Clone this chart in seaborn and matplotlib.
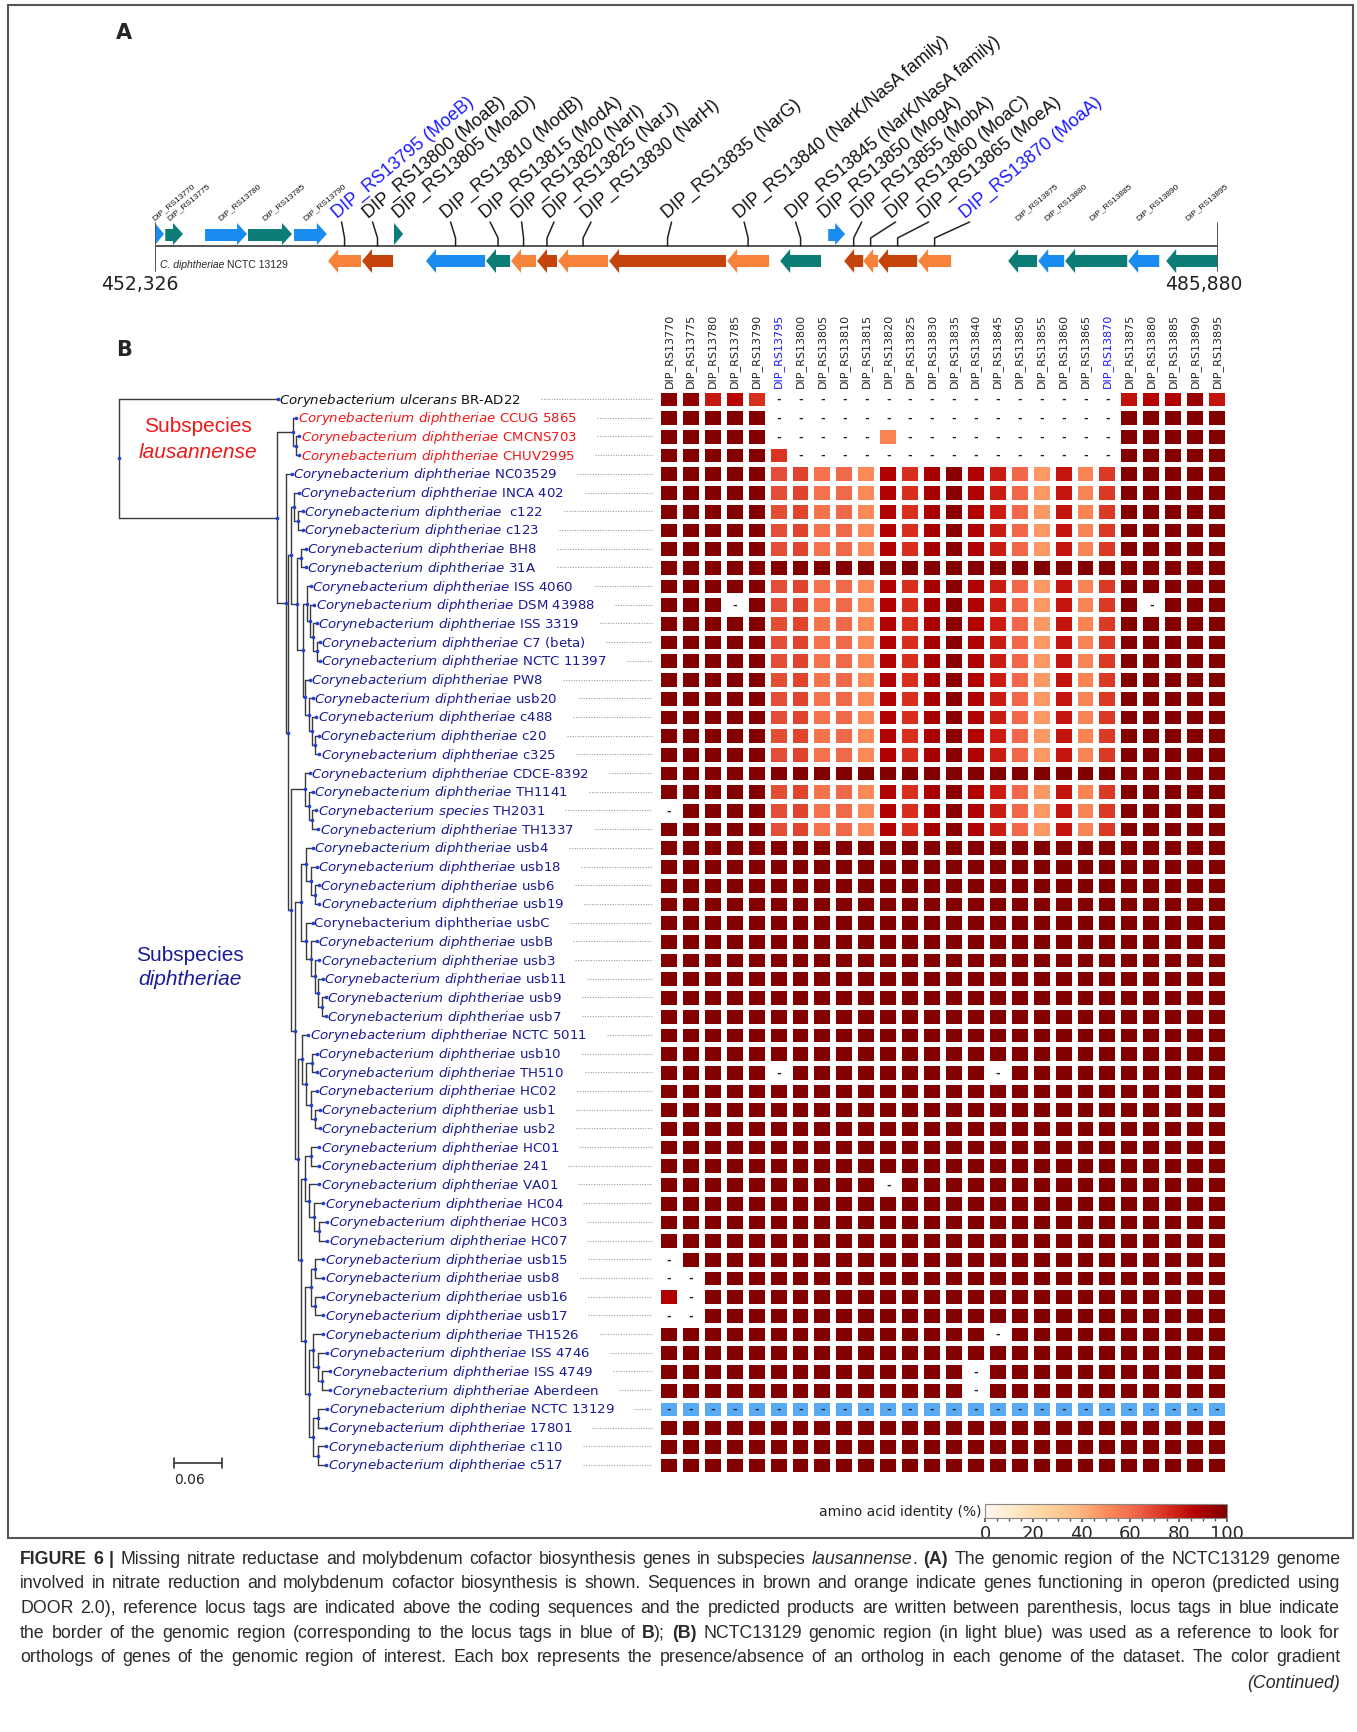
import numpy as np
import pandas as pd
import matplotlib
matplotlib.use('Agg')
import matplotlib.pyplot as plt
import seaborn as sns
from matplotlib.patches import Polygon, Rectangle
from matplotlib.colors import ListedColormap
from matplotlib.ticker import MultipleLocator
from matplotlib import font_manager

# ---------------- panel A data: genomic region of NCTC 13129 ----------------
region = (452326, 485880)
gene_tags = ['DIP_RS13770', 'DIP_RS13775', 'DIP_RS13780', 'DIP_RS13785', 'DIP_RS13790',
             'DIP_RS13795', 'DIP_RS13800', 'DIP_RS13805', 'DIP_RS13810', 'DIP_RS13815',
             'DIP_RS13820', 'DIP_RS13825', 'DIP_RS13830', 'DIP_RS13835', 'DIP_RS13840',
             'DIP_RS13845', 'DIP_RS13850', 'DIP_RS13855', 'DIP_RS13860', 'DIP_RS13865',
             'DIP_RS13870', 'DIP_RS13875', 'DIP_RS13880', 'DIP_RS13885', 'DIP_RS13890',
             'DIP_RS13895']
gene_start = [452326, 452650, 453905, 455262, 456714, 457790, 458860, 459870, 460880, 462775,
              463565, 464385, 465050, 466660, 470385, 472060, 473575, 474080, 474680, 475150,
              476415, 479255, 480205, 481055, 483045, 484245]
gene_end = [452610, 453210, 455230, 456650, 457750, 458830, 459840, 460160, 462745, 463535,
            464355, 465015, 466625, 470350, 471710, 473350, 474110, 474680, 475150, 476385,
            477455, 480170, 481025, 483015, 484025, 485880]
gene_strand = ['+', '+', '+', '+', '+', '-', '-', '+', '-', '-', '-', '-', '-', '-', '-',
               '-', '+', '-', '-', '-', '-', '-', '-', '-', '-', '-']
gene_kind = ['blue', 'teal', 'blue', 'teal', 'blue', 'orange', 'brown', 'teal', 'blue', 'teal',
             'orange', 'brown', 'orange', 'brown', 'orange', 'teal', 'blue', 'brown', 'orange',
             'brown', 'orange', 'teal', 'blue', 'teal', 'blue', 'teal']
gene_products = ['', '', '', '', '', 'MoeB', 'MoaB', 'MoaD', 'ModB', 'ModA', 'NarI', 'NarJ',
                 'NarH', 'NarG', 'NarK/NasA family', 'NarK/NasA family', 'MogA', 'MobA', 'MoaC',
                 'MoeA', 'MoaA', '', '', '', '', '']
border_tags = ['DIP_RS13795', 'DIP_RS13870']

# ---------------- panel B data ----------------
strains = ['BR-AD22', 'CCUG 5865', 'CMCNS703', 'CHUV2995', 'NC03529', 'INCA 402', ' c122', 'c123',
           'BH8', '31A', 'ISS 4060', 'DSM 43988', 'ISS 3319', 'C7 (beta)', 'NCTC 11397', 'PW8',
           'usb20', 'c488', 'c20', 'c325', 'CDCE-8392', 'TH1141', 'TH2031', 'TH1337', 'usb4',
           'usb18', 'usb6', 'usb19', 'usbC', 'usbB', 'usb3', 'usb11', 'usb9', 'usb7', 'NCTC 5011',
           'usb10', 'TH510', 'HC02', 'usb1', 'usb2', 'HC01', '241', 'VA01', 'HC04', 'HC03', 'HC07',
           'usb15', 'usb8', 'usb16', 'usb17', 'TH1526', 'ISS 4746', 'ISS 4749', 'Aberdeen',
           'NCTC 13129', '17801', 'c110', 'c517']
outgroup = ['BR-AD22']
lausannense = ['CCUG 5865', 'CMCNS703', 'CHUV2995']
species_override = {'BR-AD22': 'ulcerans', 'TH2031': 'species'}
upright_labels = ['usbC']
reference_strain = 'NCTC 13129'

# phylogeny (newick, substitutions/site), leaves in the row order above
tree_newick = """
(BR-AD22:0.199,
 ((CCUG5865:0.004,(CMCNS703:0.004,CHUV2995:0.004):0.004):0.020,
  (NC03529:0.0075,
   (((INCA402:0.006,(c122:0.006,c123:0.006):0.005):0.004,
     ((BH8:0.006,31A:0.006):0.005,
      ((ISS4060:0.005,(DSM43988:0.005,(ISS3319:0.004,(C7beta:0.004,NCTC11397:0.004):0.004):0.004):0.004):0.005,
       (PW8:0.006,(usb20:0.005,(c488:0.005,(c20:0.004,c325:0.005):0.004):0.004):0.005):0.0025):0.0075):0.0075):0.004,
    ((CDCE8392:0.006,(TH1141:0.005,(TH2031:0.005,TH1337:0.0075):0.004):0.005):0.0175,
     (((usb4:0.009,(usb18:0.0075,(usb6:0.005,usb19:0.006):0.005):0.006):0.006,
       (usbC:0.009,(usbB:0.0075,(usb3:0.006,(usb11:0.006,(usb9:0.005,usb7:0.005):0.005):0.004):0.005):0.006):0.006):0.0075,
      ((NCTC5011:0.0075,((usb10:0.006,TH510:0.006):0.0075,(HC02:0.0075,(usb1:0.006,usb2:0.006):0.005):0.006):0.005):0.005,
       (((HC01:0.010,241:0.010):0.0075,(VA01:0.0125,(HC04:0.011,(HC03:0.010,HC07:0.010):0.006):0.006):0.005):0.005,
        (((usb15:0.010,usb8:0.010):0.006,(usb16:0.010,usb17:0.010):0.006):0.0075,
         ((TH1526:0.0125,(ISS4746:0.011,(ISS4749:0.010,Aberdeen:0.010):0.005):0.006):0.006,
          ((NCTC13129:0.011,17801:0.010):0.006,(c110:0.010,c517:0.010):0.006):0.006):0.005):0.004):0.004):0.004):0.005):0.004):0.0025):0.011):0.198);
"""

loci = gene_tags
default_identity = 99
ulcerans_identity = [97, 96, 81, 86, 75] + [np.nan] * 16 + [83, 87, 88, 93, 82]
reduced_profile = [68, 70, 58, 61, 51, 88, 75, 90, 97, 88, 80, 62, 47, 82, 53, 73]  # DIP_RS13795..13870
reduced_strains = ['NC03529', 'INCA 402', ' c122', 'c123', 'BH8', 'ISS 4060', 'DSM 43988', 'ISS 3319',
                   'C7 (beta)', 'NCTC 11397', 'PW8', 'usb20', 'c488', 'c20', 'c325', 'TH1141',
                   'TH2031', 'TH1337']
lausannense_kept = {'CMCNS703': {'DIP_RS13820': 52}, 'CHUV2995': {'DIP_RS13795': 74}}
partial_hits = {'usb16': {'DIP_RS13770': 88}}
missing = {
    'DSM 43988': ['DIP_RS13785', 'DIP_RS13880'],
    'TH2031': ['DIP_RS13770'],
    'TH510': ['DIP_RS13795', 'DIP_RS13845'],
    'VA01': ['DIP_RS13820'],
    'usb15': ['DIP_RS13770'],
    'usb8': ['DIP_RS13770', 'DIP_RS13775'],
    'usb16': ['DIP_RS13775'],
    'usb17': ['DIP_RS13770', 'DIP_RS13775'],
    'TH1526': ['DIP_RS13845'],
    'ISS 4749': ['DIP_RS13840'],
    'Aberdeen': ['DIP_RS13840'],
}

# ---------------- build the identity table ----------------
operon_loci = loci[5:21]
df = pd.DataFrame(default_identity, index=strains, columns=loci, dtype=float)
df.loc['BR-AD22'] = ulcerans_identity
for s in lausannense:
    df.loc[s, operon_loci] = np.nan
for s, hits in lausannense_kept.items():
    for loc, v in hits.items():
        df.loc[s, loc] = v
for s in reduced_strains:
    df.loc[s, operon_loci] = reduced_profile
for s, hits in partial_hits.items():
    for loc, v in hits.items():
        df.loc[s, loc] = v
for s, locs in missing.items():
    df.loc[s, locs] = np.nan

# ---------------- figure ----------------
sns.set_theme(style='white')
plt.rcParams['font.family'] = ['DejaVu Sans']
plt.rcParams['mathtext.fontset'] = 'dejavusans'

W, H = 1357, 1733
fig = plt.figure(figsize=(W / 100, H / 100), dpi=100)
fig.patch.set_facecolor('white')
renderer = fig.canvas.get_renderer()


def px_axes(left, top, width, height):
    return fig.add_axes([left / W, 1 - (top + height) / H, width / W, height / H])


def fy(y):
    return 1 - y / H


fig.add_artist(Rectangle((8 / W, fy(1539)), 1345 / W, 1533 / H, transform=fig.transFigure,
                         fill=False, ec='#555555', lw=1.5))
fig.text(124 / W, fy(33), 'A', fontsize=15, weight='bold', ha='center', va='center')
fig.text(124 / W, fy(350), 'B', fontsize=15, weight='bold', ha='center', va='center')

# ---- panel A ----
gene_colors = {'blue': '#1b8cef', 'teal': '#0b7d76', 'orange': '#f7823a', 'brown': '#c4440c'}
label_shift_px = [-5, -7, 2, -7, -10, -4, 5, 6, 2, -6, -7, -10, 6, 23, 29, 33]
ax_a = px_axes(155, 20, 1063, 280)
ax_a.set_xlim(region)
ax_a.set_ylim(-53, 227)
ax_a.axis('off')
bp_px = (region[1] - region[0]) / 1063.0
ax_a.plot(region, [0, 0], color='#555555', lw=1.4, solid_capstyle='butt')
for xe in region:
    ax_a.plot([xe, xe], [-25, 23], color='#555555', lw=1.4)

k = 0
for tag, s, e, strand, kind, prod in zip(gene_tags, gene_start, gene_end, gene_strand,
                                         gene_kind, gene_products):
    h = min(10 * bp_px, e - s)
    if strand == '+':
        b1, b2, h1, h2 = 5, 17, 1, 23
        poly = [(s, b1), (e - h, b1), (e - h, h1), (e, (h1 + h2) / 2), (e - h, h2), (e - h, b2), (s, b2)]
    else:
        b1, b2, h1, h2 = -9, -21, -3, -27
        poly = [(e, b1), (s + h, b1), (s + h, h1), (s, (h1 + h2) / 2), (s + h, h2), (s + h, b2), (e, b2)]
    ax_a.add_patch(Polygon(poly, closed=True, fc=gene_colors[kind], ec='none'))
    c = (s + e) / 2
    if prod:
        lx = c + label_shift_px[k] * bp_px
        k += 1
        if strand == '-':
            ax_a.plot([c, c, lx + 2 * bp_px], [0, 8, 24], color='#222222', lw=1.1)
        ax_a.text(lx, 25, f'{tag} ({prod})', rotation=40, rotation_mode='anchor', ha='left',
                  va='bottom', fontsize=13, family='Liberation Sans',
                  color='#1a1aff' if tag in border_tags else '#111111')
    else:
        ax_a.text(c - 4 * bp_px, 25, tag, rotation=40, rotation_mode='anchor', ha='left',
                  va='bottom', fontsize=6, family='Liberation Sans', color='#111111')

t1 = ax_a.text(region[0] + 5 * bp_px, -18, 'C. diphtheriae', style='italic', fontsize=7.5,
               family='Liberation Sans', va='center', ha='left')
w1 = t1.get_window_extent(renderer).width
ax_a.text(region[0] + (5 + w1 + 3) * bp_px, -18, 'NCTC 13129', fontsize=7.5,
          family='Liberation Sans', va='center', ha='left')
ax_a.text(region[0] - 15 * bp_px, -38, f'{region[0]:,}', fontsize=13.5, ha='center', va='center',
          color='#222222')
ax_a.text(region[1] - 14 * bp_px, -38, f'{region[1]:,}', fontsize=13.5, ha='center', va='center',
          color='#222222')

# ---- panel B heatmap ----
ncol, nrow = len(loci), len(strains)
hm_left, hm_top = 658, 390.65
hm_w, hm_h = 570, 1084.7
hax = px_axes(hm_left, hm_top, hm_w, hm_h)
cax = px_axes(985, 1505, 242, 14)

is_ref = np.zeros(df.shape, dtype=bool)
is_ref[strains.index(reference_strain), :] = True
empty = df.isna().values
sns.heatmap(df, ax=hax, cmap='OrRd', vmin=0, vmax=100, mask=empty | is_ref,
            linewidths=2.3, linecolor='white', cbar_ax=cax,
            cbar_kws={'orientation': 'horizontal'}, xticklabels=loci, yticklabels=False)
sns.heatmap(df.fillna(0), ax=hax, cmap=ListedColormap(['#58aaf2']), mask=~is_ref,
            linewidths=2.3, linecolor='white', cbar=False, xticklabels=loci, yticklabels=False)
# wider white gutters between the columns than between the rows
for j in range(ncol + 1):
    hax.axvline(j, color='white', lw=4.3, zorder=3)
for i, j in zip(*np.where(empty | is_ref)):
    hax.text(j + 0.5, i + 0.5, '-', ha='center', va='center', fontsize=8, weight='bold',
             color='#222222', zorder=4)
hax.xaxis.tick_top()
hax.set_xticks(np.arange(ncol) + 0.5)
hax.set_xticklabels(loci, rotation=90, fontsize=8)
for lab in hax.get_xticklabels():
    lab.set_color('#1a1aff' if lab.get_text() in border_tags else '#222222')
hax.tick_params(axis='x', length=0, pad=2, top=False, bottom=False)
hax.set_xlabel('')
hax.set_ylabel('')

cbar = hax.collections[0].colorbar
cbar.set_ticks([0, 20, 40, 60, 80, 100])
cax.xaxis.set_minor_locator(MultipleLocator(5))
cax.tick_params(which='major', labelsize=13, length=3, pad=1, bottom=True, color='#555555')
cax.tick_params(which='minor', length=2, bottom=True, color='#555555')
cbar.outline.set_edgecolor('#888888')
cbar.outline.set_linewidth(0.8)
fig.text(981 / W, fy(1512), 'amino acid identity (%)', ha='right', va='center', fontsize=10,
         color='#222222')

# ---- panel B tree ----
def parse_newick(text):
    s = ''.join(text.split())
    pos = 0

    def node():
        nonlocal pos
        children = []
        if s[pos] == '(':
            pos += 1
            children.append(node())
            while s[pos] == ',':
                pos += 1
                children.append(node())
            pos += 1
        st = pos
        while s[pos] not in ',():;':
            pos += 1
        name = s[st:pos]
        length = 0.0
        if s[pos] == ':':
            pos += 1
            st = pos
            while s[pos] not in ',();':
                pos += 1
            length = float(s[st:pos])
        return {'name': name, 'len': length, 'children': children}

    return node()


tree = parse_newick(tree_newick)
leaves = []


def layout(nd, x0):
    nd['x'] = x0 + nd['len']
    if nd['children']:
        for ch in nd['children']:
            layout(ch, nd['x'])
        nd['y'] = (nd['children'][0]['y'] + nd['children'][-1]['y']) / 2
    else:
        nd['y'] = len(leaves) + 0.5
        leaves.append(nd)


layout(tree, 0.0)

px_unit = 800.0       # pixels per substitution/site (0.06 -> 48 px)
root_px = 118.6
tax = px_axes(100, hm_top, hm_left - 100, hm_h)
tax.set_xlim(-(root_px - 100) / px_unit, (hm_left - root_px) / px_unit)
tax.set_ylim(nrow, 0)
tax.axis('off')

line_c, dot_c = '#3a3a3a', '#1f3fd8'


def draw(nd):
    if nd['children']:
        ys = [ch['y'] for ch in nd['children']]
        tax.plot([nd['x'], nd['x']], [min(ys), max(ys)], color=line_c, lw=1.0)
        for ch in nd['children']:
            tax.plot([nd['x'], ch['x']], [ch['y'], ch['y']], color=line_c, lw=1.0)
            draw(ch)
    tax.plot(nd['x'], nd['y'], 'o', ms=2.6, color=dot_c, mec='none')


draw(tree)

label_texts = []
for leaf, strain in zip(leaves, strains):
    sp = species_override.get(strain, 'diphtheriae')
    if strain in upright_labels:
        lab = f'Corynebacterium {sp} {strain}'
    else:
        lab = r'$\it{Corynebacterium\ ' + sp + '}$ ' + strain
    col = '#111111' if strain in outgroup else ('#f01818' if strain in lausannense else '#1b1b94')
    t = tax.text(leaf['x'] + 1.5 / px_unit, leaf['y'], lab, ha='left', va='center',
                 fontsize=9.6, color=col)
    label_texts.append((t, leaf['y']))

fig.canvas.draw()
inv = tax.transData.inverted()
for t, y in label_texts:
    bb = t.get_window_extent(renderer)
    x0 = inv.transform((bb.x1 + 20, 0))[0]
    tax.plot([x0, (652 - root_px) / px_unit], [y, y], color='#9a9a9a', lw=0.8,
             linestyle=(0, (1, 1.3)))

# scale bar
sb_x0 = (174 - root_px) / px_unit
sb_len = 0.06
sb_y = (1464 - hm_top) / (hm_h / nrow)
tax.plot([sb_x0, sb_x0 + sb_len], [sb_y, sb_y], color='#333333', lw=1.2, clip_on=False)
for xe in (sb_x0, sb_x0 + sb_len):
    tax.plot([xe, xe], [sb_y - 0.25, sb_y + 0.25], color='#333333', lw=1.2, clip_on=False)
tax.text(sb_x0, sb_y + 0.85, f'{sb_len:.2f}', fontsize=10, ha='left', va='center',
         color='#222222', clip_on=False)

# subspecies annotations
fig.text(198 / W, fy(427), 'Subspecies', fontsize=15, family='Liberation Sans', color='#f01818',
         ha='center', va='center')
fig.text(198 / W, fy(453), 'lausannense', fontsize=15, family='Liberation Sans', style='italic',
         color='#f01818', ha='center', va='center')
fig.text(190 / W, fy(956), 'Subspecies', fontsize=15, family='Liberation Sans', color='#1b1b94',
         ha='center', va='center')
fig.text(190 / W, fy(980), 'diphtheriae', fontsize=15, family='Liberation Sans', style='italic',
         color='#1b1b94', ha='center', va='center')

# ---------------- caption ----------------
caption_lines = [
    "*FIGURE 6 |* Missing nitrate reductase and molybdenum cofactor biosynthesis genes in subspecies _lausannense_. *(A)* The genomic region of the NCTC13129 genome",
    "involved in nitrate reduction and molybdenum cofactor biosynthesis is shown. Sequences in brown and orange indicate genes functioning in operon (predicted using",
    "DOOR 2.0), reference locus tags are indicated above the coding sequences and the predicted products are written between parenthesis, locus tags in blue indicate",
    "the border of the genomic region (corresponding to the locus tags in blue of *B*); *(B)* NCTC13129 genomic region (in light blue) was used as a reference to look for",
    "orthologs of genes of the genomic region of interest. Each box represents the presence/absence of an ortholog in each genome of the dataset. The color gradient",
]
caption_y = [1558, 1582, 1607, 1632, 1656]

try:
    font_manager.findfont(font_manager.FontProperties(family='Liberation Sans Narrow'),
                          fallback_to_default=False)
    cap_family = 'Liberation Sans Narrow'
except Exception:
    cap_family = 'Liberation Sans'


def parse_words(line):
    words, cur, buf = [], [], ''
    bold = ital = False
    for ch in line + ' ':
        if ch in '*_ ':
            if buf:
                cur.append((buf, bold, ital))
                buf = ''
            if ch == '*':
                bold = not bold
            elif ch == '_':
                ital = not ital
            elif cur:
                words.append(cur)
                cur = []
        else:
            buf += ch
    return words


def seg_text(txt, fs, bold, ital, x=0.0, y=0.0):
    return fig.text(x, y, txt, fontsize=fs, family=cap_family, color='#2a2a2a',
                    weight='bold' if bold else 'normal', style='italic' if ital else 'normal',
                    va='baseline', ha='left')


def seg_width(txt, fs, bold, ital):
    t = seg_text(txt, fs, bold, ital)
    w = t.get_window_extent(renderer).width
    t.remove()
    return w


base_fs = 12.0
space_w = seg_width('a a', base_fs, False, False) - seg_width('aa', base_fs, False, False)
natural = []
for line in caption_lines:
    words = parse_words(line)
    tot = sum(seg_width(txt, base_fs, b, it) for w in words for (txt, b, it) in w)
    natural.append(tot + space_w * (len(words) - 1))
cap_left, cap_w = 20, 1320
cap_fs = base_fs * cap_w * 0.985 / max(natural)

for line, yc in zip(caption_lines, caption_y):
    words = parse_words(line)
    widths = [[seg_width(txt, cap_fs, b, it) for (txt, b, it) in w] for w in words]
    total = sum(sum(ws) for ws in widths)
    gap = (cap_w - total) / (len(words) - 1)
    x = cap_left
    base = yc + 0.33 * cap_fs * 100 / 72
    for w, ws in zip(words, widths):
        for (txt, b, it), sw in zip(w, ws):
            seg_text(txt, cap_fs, b, it, x / W, fy(base))
            x += sw
        x += gap

fig.text(1340 / W, fy(1682 + 0.33 * cap_fs * 100 / 72), '(Continued)', fontsize=cap_fs,
         family=cap_family, style='italic', color='#2a2a2a', ha='right', va='baseline')

fig.savefig('out.png', dpi=100, facecolor='white')
